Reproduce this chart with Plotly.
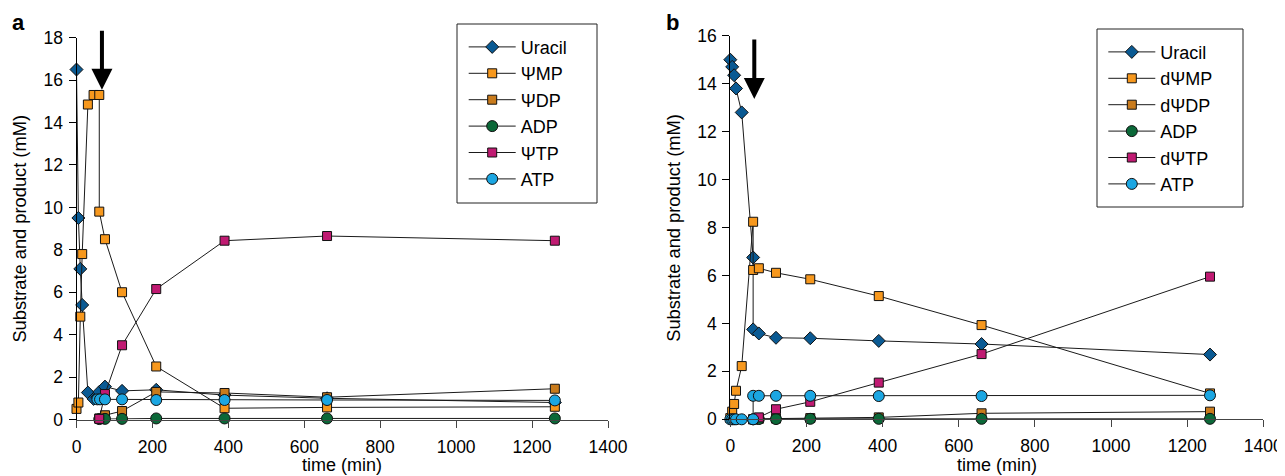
import plotly.graph_objects as go

# ---------------- Panel a data (time in min, concentration in mM) ----------------
TIME_A_URACIL = [0, 5, 10, 15, 30, 45, 55, 60, 75, 120, 210, 390, 660, 1260]
URACIL_A = [16.5, 9.5, 7.1, 5.4, 1.27, 0.97, 1.05, 1.3, 1.55, 1.35, 1.4, 1.15, 1.0, 0.8]
TIME_A_PMP = [0, 5, 10, 15, 30, 45, 60, 60, 75, 120, 210, 390, 660, 1260]
PMP_A = [0.5, 0.8, 4.85, 7.8, 14.85, 15.3, 15.3, 9.8, 8.5, 6.0, 2.5, 0.53, 0.57, 0.6]
TIME_A_LATE = [60, 75, 120, 210, 390, 660, 1260]
PDP_A = [0.05, 0.2, 0.4, 1.3, 1.25, 1.05, 1.45]
ADP_A = [0.02, 0.03, 0.03, 0.05, 0.05, 0.05, 0.05]
PTP_A = [0.03, 1.2, 3.5, 6.15, 8.43, 8.65, 8.43]
TIME_A_ATP = [55, 62, 75, 120, 210, 390, 660, 1260]
ATP_A = [0.95, 0.95, 0.95, 0.95, 0.92, 0.92, 0.92, 0.9]
NAMES_A = ["Uracil", "ΨMP", "ΨDP", "ADP", "ΨTP", "ATP"]

# ---------------- Panel b data ----------------
TIME_B = [0, 5, 10, 15, 30, 60, 60, 75, 120, 210, 390, 660, 1260]
URACIL_B = [15.0, 14.7, 14.35, 13.8, 12.8, 6.75, 3.75, 3.58, 3.4, 3.38, 3.27, 3.14, 2.7]
PMP_B = [0.05, 0.32, 0.64, 1.19, 2.22, 8.24, 6.23, 6.3, 6.11, 5.84, 5.14, 3.93, 1.08]
ATP_B = [0, 0, 0, 0, 0, 0, 0.98, 0.98, 0.98, 0.98, 0.97, 0.97, 1.0]
TIME_B_LATE = [60, 75, 120, 210, 390, 660, 1260]
PDP_B = [0.0, 0.02, 0.03, 0.05, 0.08, 0.25, 0.32]
ADP_B = [0.0, 0.01, 0.01, 0.02, 0.02, 0.02, 0.02]
PTP_B = [0.0, 0.08, 0.42, 0.73, 1.53, 2.72, 5.95]
NAMES_B = ["Uracil", "dΨMP", "dΨDP", "ADP", "dΨTP", "ATP"]

# ATP addition time (arrow) and arrow extents
ARROW_A = dict(t=67, tail=18.4, tip=15.55)
ARROW_B = dict(t=63, tail=15.9, tip=13.36)

X_TICKS = [0, 200, 400, 600, 800, 1000, 1200, 1400]

COLORS = ["#0a5a93", "#f7981d", "#c97b1c", "#0b6838", "#c01a72", "#1ba6e2"]
SYMBOLS = ["diamond", "square", "square", "circle", "square", "circle"]
SIZES = [10, 9, 9, 11, 9, 11]

FONT = "Liberation Sans, Arial, Helvetica, sans-serif"
WIN_W, WIN_H = 1285, 476
OFF = 8  # the page body places the figure 8 px in from the window corner
W, H = WIN_W - OFF, WIN_H - OFF

fig = go.Figure()

series_a = [(TIME_A_URACIL, URACIL_A), (TIME_A_PMP, PMP_A), (TIME_A_LATE, PDP_A),
            (TIME_A_LATE, ADP_A), (TIME_A_LATE, PTP_A), (TIME_A_ATP, ATP_A)]
series_b = [(TIME_B, URACIL_B), (TIME_B, PMP_B), (TIME_B_LATE, PDP_B),
            (TIME_B_LATE, ADP_B), (TIME_B_LATE, PTP_B), (TIME_B, ATP_B)]

for panel, (series, names, xa, ya, leg) in enumerate([
        (series_a, NAMES_A, "x", "y", "legend"),
        (series_b, NAMES_B, "x2", "y2", "legend2")]):
    for i, ((tx, vy), name) in enumerate(zip(series, names)):
        fig.add_trace(go.Scatter(
            x=tx, y=vy, name=name, mode="lines+markers",
            xaxis=xa, yaxis=ya, legend=leg, legendgroup=f"{panel}_{i}",
            cliponaxis=False,
            line=dict(color="#1a1a1a", width=1),
            marker=dict(symbol=SYMBOLS[i], size=SIZES[i], color=COLORS[i],
                        line=dict(color="#111111", width=1)),
        ))


def px_x(p):
    return (p - OFF) / W


def px_y(p):
    return 1 - (p - OFF) / H


axis_common = dict(showgrid=False, zeroline=False, showline=True,
                   ticks="outside", ticklen=7, tickwidth=1,
                   tickfont=dict(family=FONT, size=17.5, color="black"))

fig.update_layout(
    width=W, height=H,
    margin=dict(l=0, r=0, t=0, b=0, pad=0, autoexpand=False),
    paper_bgcolor="white", plot_bgcolor="white",
    font=dict(family=FONT, color="black"),
    showlegend=True,
    xaxis=dict(domain=[px_x(76.5), px_x(608)], range=[0, 1400], tickvals=X_TICKS,
               linecolor="#444", tickcolor="#444", anchor="y", ticklabelstandoff=4,
               **axis_common),
    yaxis=dict(domain=[px_y(419.5), px_y(37.7)], range=[0, 18], dtick=2,
               linecolor="black", tickcolor="black", anchor="x", ticklabelstandoff=2,
               **axis_common),
    xaxis2=dict(domain=[px_x(730.3), px_x(1263.3)], range=[0, 1400], tickvals=X_TICKS,
                linecolor="#444", tickcolor="#444", anchor="y2", ticklabelstandoff=4,
                **axis_common),
    yaxis2=dict(domain=[px_y(419.3), px_y(35.7)], range=[0, 16], dtick=2,
                linecolor="black", tickcolor="black", anchor="x2", ticklabelstandoff=2,
                **axis_common),
    legend=dict(x=px_x(463.7), y=px_y(28.7), xanchor="left", yanchor="top",
                bgcolor="rgba(0,0,0,0)", borderwidth=0, itemwidth=47,
                tracegroupgap=0, font=dict(family=FONT, size=18, color="black")),
    legend2=dict(x=px_x(1103.3), y=px_y(33.7), xanchor="left", yanchor="top",
                 bgcolor="rgba(0,0,0,0)", borderwidth=0, itemwidth=47,
                 tracegroupgap=0, font=dict(family=FONT, size=18, color="black")),
)

# legend frames
for (x0, x1, y0, y1) in [(457, 597, 24, 203), (1097, 1243, 29, 207)]:
    fig.add_shape(type="rect", xref="paper", yref="paper",
                  x0=px_x(x0), x1=px_x(x1), y0=px_y(y1), y1=px_y(y0),
                  line=dict(color="#222", width=1), fillcolor="rgba(0,0,0,0)")

# arrows marking ATP addition
for arr, xr, yr in [(ARROW_A, "x", "y"), (ARROW_B, "x2", "y2")]:
    fig.add_annotation(x=arr["t"], y=arr["tip"], ax=arr["t"], ay=arr["tail"],
                       xref=xr, yref=yr, axref=xr, ayref=yr, text="",
                       showarrow=True, arrowhead=2, arrowwidth=4, arrowsize=1.05,
                       arrowcolor="black")

# axis titles and panel letters
texts = [
    dict(x=px_x(20), y=px_y(228.6), text="Substrate and product (mM)", textangle=-90, size=18.3,
         yanchor="middle"),
    dict(x=px_x(673.3), y=px_y(227.5), text="Substrate and product (mM)", textangle=-90, size=18.3,
         yanchor="middle"),
    dict(x=px_x(342), y=px_y(476), text="time (min)", textangle=0, size=18, yanchor="bottom"),
    dict(x=px_x(997), y=px_y(476), text="time (min)", textangle=0, size=18, yanchor="bottom"),
]
for t in texts:
    fig.add_annotation(x=t["x"], y=t["y"], xref="paper", yref="paper", text=t["text"],
                       textangle=t["textangle"], showarrow=False,
                       xanchor="center", yanchor=t["yanchor"], borderpad=0,
                       font=dict(family=FONT, size=t["size"], color="black"))

for letter, x, y in [("a", 18, 23), ("b", 672, 23)]:
    fig.add_annotation(x=px_x(x), y=px_y(y), xref="paper", yref="paper",
                       text=f"<b>{letter}</b>", showarrow=False,
                       xanchor="center", yanchor="middle",
                       font=dict(family=FONT, size=22, color="black"))

fig.write_html("out.html")
